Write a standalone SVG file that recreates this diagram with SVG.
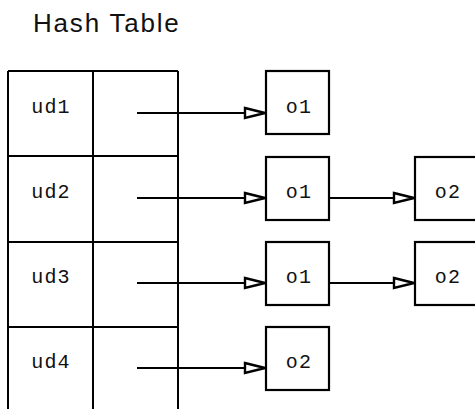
<svg xmlns="http://www.w3.org/2000/svg" width="475" height="409" viewBox="0 0 475 409">
<defs>
<style>
.ln{stroke:#000;stroke-width:2;fill:none}
.bx{stroke:#000;stroke-width:2.2;fill:#fff}
.lbl{font-family:"Courier New","Liberation Mono",monospace;font-size:20px;fill:#111;text-anchor:middle;letter-spacing:1.2px}
.title{font-family:"Liberation Sans",Arial,sans-serif;font-size:26px;fill:#111;letter-spacing:1.8px}
.ar{stroke:#000;stroke-width:2;fill:none;marker-end:url(#arr)}
</style>
<marker id="arr" viewBox="0 0 24 14" refX="23" refY="7" markerWidth="24" markerHeight="14" markerUnits="userSpaceOnUse" orient="auto">
<path d="M2,2 L22,7 L2,12 Z" fill="#fff" stroke="#000" stroke-width="2.4"/>
</marker>
</defs>
<rect width="475" height="409" fill="#fff"/>
<text class="title" x="33" y="32">Hash Table</text>
<g id="table">
<path class="ln" d="M8,71 V409 M93,71 V409 M178,71 V409 M8,71 H178 M8,156 H178 M8,242 H178 M8,327 H178"/>
<text class="lbl" x="51" y="113">ud1</text>
<text class="lbl" x="51" y="198">ud2</text>
<text class="lbl" x="51" y="283">ud3</text>
<text class="lbl" x="51" y="368">ud4</text>
</g>
<g id="connectors">
<line class="ar" x1="137" y1="113" x2="266" y2="113"/>
<line class="ar" x1="137" y1="198" x2="266" y2="198"/>
<line class="ar" x1="137" y1="283" x2="266" y2="283"/>
<line class="ar" x1="137" y1="368" x2="266" y2="368"/>
<line class="ar" x1="329" y1="198" x2="415" y2="198"/>
<line class="ar" x1="329" y1="283" x2="415" y2="283"/>
</g>
<g id="n1o1"><rect class="bx" x="266" y="71" width="63" height="63"/><text class="lbl" x="299" y="113">o1</text></g>
<g id="n2o1"><rect class="bx" x="266" y="157" width="63" height="63"/><text class="lbl" x="299" y="198">o1</text></g>
<g id="n2o2"><rect class="bx" x="415" y="157" width="63" height="63"/><text class="lbl" x="448" y="198">o2</text></g>
<g id="n3o1"><rect class="bx" x="266" y="242" width="63" height="63"/><text class="lbl" x="299" y="283">o1</text></g>
<g id="n3o2"><rect class="bx" x="415" y="242" width="63" height="63"/><text class="lbl" x="448" y="283">o2</text></g>
<g id="n4o2"><rect class="bx" x="266" y="327" width="63" height="63"/><text class="lbl" x="299" y="368">o2</text></g>
</svg>
